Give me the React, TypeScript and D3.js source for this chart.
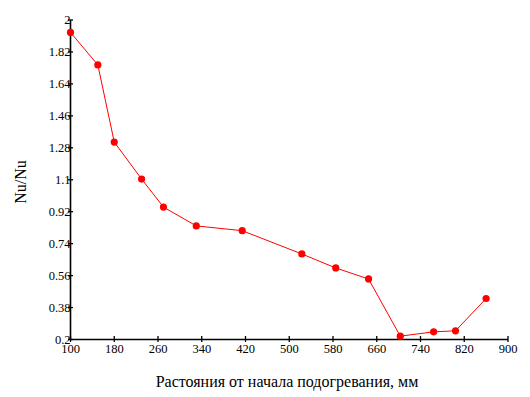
import React from 'react';
import * as d3 from 'd3';

// distance from start of heating, mm
const distances = [100, 150, 180, 230, 270, 330, 414, 523, 585, 645, 703, 764, 804, 860];
// Nu/Nu ratio
const ratios = [1.93, 1.747, 1.312, 1.104, 0.946, 0.84, 0.813, 0.682, 0.603, 0.541, 0.219, 0.243, 0.249, 0.431];

const xTicks = [100, 180, 260, 340, 420, 500, 580, 660, 740, 820, 900];
const yTicks = [0.2, 0.38, 0.56, 0.74, 0.92, 1.1, 1.28, 1.46, 1.64, 1.82, 2];

const xTitle = 'Растояния от начала подогревания, мм';
const yTitle = 'Nu/Nu';

const WIDTH = 530;
const HEIGHT = 397;
const FONT = "'Liberation Serif', 'Times New Roman', serif";

export default function App() {
  const xScale = d3.scaleLinear().domain([100, 900]).range([70.5, 508]);
  const yScale = d3.scaleLinear().domain([0.2, 2]).range([339.5, 20]);

  const points = distances.map((d, i) => ({ x: d, y: ratios[i] }));
  const line = d3
    .line<{ x: number; y: number }>()
    .x((d) => xScale(d.x))
    .y((d) => yScale(d.y));

  const [x0, x1] = xScale.range();
  const [y0, y1] = yScale.range();
  const textStyle = { fontFamily: FONT };

  return (
    <svg
      width={WIDTH}
      height={HEIGHT}
      style={{ position: 'absolute', left: 0, top: 0, background: '#fff' }}
    >
      <rect width={WIDTH} height={HEIGHT} fill="#fff" />

      {/* axes */}
      <line x1={x0} x2={x1} y1={y0} y2={y0} stroke="#000" strokeWidth={1.6} />
      <line x1={x0} x2={x0} y1={y0} y2={y1} stroke="#000" strokeWidth={1.6} />

      {xTicks.map((t) => (
        <g key={'x' + t} transform={`translate(${xScale(t)},${y0})`}>
          <line y1={-3.5} y2={2.5} stroke="#000" strokeWidth={1.3} />
          <text y={13} textAnchor="middle" fontSize={12.5} fill="#000" style={textStyle}>
            {t}
          </text>
        </g>
      ))}

      {yTicks.map((t) => (
        <g key={'y' + t} transform={`translate(${x0},${yScale(t)})`}>
          <line x1={-2.5} x2={2.5} stroke="#000" strokeWidth={1.3} />
          <text x={0} dy="0.33em" textAnchor="end" fontSize={12.5} fill="#000" style={textStyle}>
            {d3.format('~g')(t)}
          </text>
        </g>
      ))}

      {/* series */}
      <path d={line(points) ?? ''} fill="none" stroke="#ff0000" strokeWidth={1} />
      {points.map((p, i) => (
        <circle key={i} cx={xScale(p.x)} cy={yScale(p.y)} r={3.6} fill="#ff0000" />
      ))}

      {/* titles */}
      <text x={287} y={387} textAnchor="middle" fontSize={16} fill="#000" style={textStyle}>
        {xTitle}
      </text>
      <text
        transform="translate(26,182) rotate(-90)"
        textAnchor="middle"
        fontSize={16}
        fill="#000"
        style={textStyle}
      >
        {yTitle}
      </text>
    </svg>
  );
}
